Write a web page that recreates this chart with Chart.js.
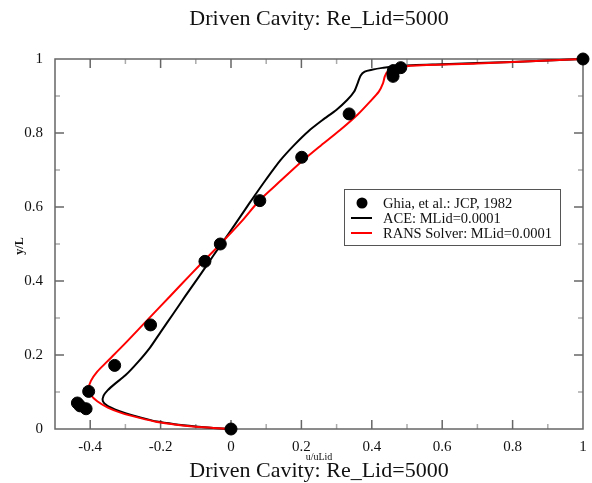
<!DOCTYPE html>
<html lang="en">

<head>
	<meta charset="UTF-8">
	<title>Driven Cavity: Re_Lid=5000</title>

	<!-- Chart.js -->
	<script src="https://cdn.jsdelivr.net/npm/chart.js"></script>

	<style>
		body { margin: 0; background: #fff; }
		#wrap { width: 592px; height: 483px; }
	</style>
</head>

<body>

	<div id="wrap">
		<canvas id="cavityChart" width="592" height="483"></canvas>
	</div>

	<script>

		// Ghia, Ghia & Shin (1982), u-velocity on the vertical centerline
		const ghiaU = [1.0, 0.48223, 0.46120, 0.45992, 0.46036, 0.33556, 0.20087, 0.08183, -0.03039, -0.07404, -0.22855, -0.33050, -0.40435, -0.43643, -0.42901, -0.41165, 0.0];
		const ghiaY = [1.0, 0.9766, 0.9688, 0.9609, 0.9531, 0.8516, 0.7344, 0.6172, 0.5000, 0.4531, 0.2813, 0.1719, 0.1016, 0.0703, 0.0625, 0.0547, 0.0];

		// ACE profile, MLid=0.0001
		const aceU = [0, -0.05, -0.10, -0.16, -0.21, -0.26, -0.30, -0.33, -0.352, -0.364, -0.362, -0.35, -0.33, -0.30, -0.265, -0.23, -0.20, -0.165, -0.13, -0.09, -0.05, -0.02, 0.01, 0.04, 0.063, 0.10, 0.14, 0.18, 0.22, 0.26, 0.30, 0.33, 0.35, 0.36, 0.368, 0.38, 0.40, 0.43, 0.48, 0.6, 0.8, 1.0];
		const aceY = [0, 0.003, 0.007, 0.013, 0.02, 0.032, 0.043, 0.053, 0.063, 0.075, 0.09, 0.105, 0.122, 0.145, 0.18, 0.22, 0.262, 0.31, 0.359, 0.413, 0.469, 0.51, 0.551, 0.593, 0.625, 0.675, 0.726, 0.768, 0.805, 0.835, 0.863, 0.889, 0.912, 0.935, 0.955, 0.966, 0.971, 0.976, 0.982, 0.986, 0.992, 1.0];

		// RANS solver profile, MLid=0.0001
		const ransU = [0, -0.05, -0.10, -0.15, -0.21, -0.26, -0.31, -0.35, -0.38, -0.398, -0.404, -0.398, -0.38, -0.352, -0.30, -0.25, -0.20, -0.145, -0.09, -0.03, 0.03, 0.08, 0.14, 0.196, 0.25, 0.31, 0.36, 0.395, 0.42, 0.432, 0.437, 0.445, 0.47, 0.51, 0.7, 1.0];
		const ransY = [0, 0.003, 0.006, 0.011, 0.019, 0.03, 0.043, 0.058, 0.075, 0.092, 0.11, 0.13, 0.155, 0.182, 0.232, 0.282, 0.332, 0.387, 0.442, 0.50, 0.561, 0.617, 0.67, 0.719, 0.762, 0.808, 0.85, 0.885, 0.912, 0.935, 0.953, 0.966, 0.974, 0.982, 0.988, 1.0];

		const titleText = 'Driven Cavity: Re_Lid=5000';
		const serif = '"Liberation Serif", "DejaVu Serif", serif';

		const toPoints = (xs, ys) => xs.map((v, i) => ({ x: v, y: ys[i] }));

		// tenths that are even get a label and a long tick
		const isMajor = v => Math.abs(Math.round(v * 10)) % 2 === 0;

		// Frame with inward ticks on all four sides
		const framePlugin = {
			id: 'frame',
			beforeDatasetsDraw(chart) {
				const { ctx, chartArea: a, scales: { x, y } } = chart;
				ctx.save();

				const tick = (x1, y1, x2, y2, major) => {
					ctx.strokeStyle = major ? '#666' : '#aaa';
					ctx.lineWidth = 1.5;
					ctx.beginPath();
					ctx.moveTo(x1, y1);
					ctx.lineTo(x2, y2);
					ctx.stroke();
				};

				x.ticks.forEach(t => {
					if (t.value <= x.min + 1e-6 || t.value >= x.max - 1e-6) return;
					const px = x.getPixelForValue(t.value);
					const major = isMajor(t.value);
					const len = major ? 9 : 5;
					tick(px, a.bottom, px, a.bottom - len, major);
					tick(px, a.top, px, a.top + len, major);
				});

				y.ticks.forEach(t => {
					if (t.value <= y.min + 1e-6 || t.value >= y.max - 1e-6) return;
					const py = y.getPixelForValue(t.value);
					const major = isMajor(t.value);
					const len = major ? 9 : 5;
					tick(a.left, py, a.left + len, py, major);
					tick(a.right, py, a.right - len, py, major);
				});

				ctx.strokeStyle = '#666';
				ctx.lineWidth = 1.5;
				ctx.strokeRect(a.left, a.top, a.right - a.left, a.bottom - a.top);
				ctx.restore();
			}
		};

		// Boxed legend inside the plot, plus titles and axis names
		const textPlugin = {
			id: 'texts',
			afterDatasetsDraw(chart) {
				const { ctx } = chart;
				const ds = chart.data.datasets;
				ctx.save();

				const bx = 344, by = 189, bw = 216, bh = 56;
				ctx.fillStyle = '#fff';
				ctx.fillRect(bx, by, bw, bh);
				ctx.strokeStyle = '#555';
				ctx.lineWidth = 1;
				ctx.strokeRect(bx + 0.5, by + 0.5, bw, bh);

				ctx.font = '14.5px ' + serif;
				ctx.textBaseline = 'middle';
				ctx.textAlign = 'left';
				ds.forEach((d, i) => {
					const ry = by + 14 + i * 15;
					if (d.showLine) {
						ctx.strokeStyle = d.borderColor;
						ctx.lineWidth = 2;
						ctx.beginPath();
						ctx.moveTo(bx + 7, ry);
						ctx.lineTo(bx + 28, ry);
						ctx.stroke();
					} else {
						ctx.fillStyle = d.backgroundColor;
						ctx.beginPath();
						ctx.arc(bx + 18, ry, 5.5, 0, Math.PI * 2);
						ctx.fill();
					}
					ctx.fillStyle = '#111';
					ctx.fillText(d.label, bx + 39, ry + 1);
				});
				ctx.restore();
			},
			afterDraw(chart) {
				const { ctx, chartArea: a } = chart;
				const cx = (a.left + a.right) / 2;
				ctx.save();
				ctx.fillStyle = '#111';
				ctx.textAlign = 'center';
				ctx.textBaseline = 'alphabetic';
				ctx.font = '22px ' + serif;
				ctx.fillText(titleText, cx, 25);

				ctx.font = '10px ' + serif;
				ctx.fillText('u/uLid', cx, 460);

				ctx.font = '22px ' + serif;
				ctx.fillText(titleText, cx, 477);

				ctx.font = 'bold 12px ' + serif;
				ctx.translate(20, 246);
				ctx.rotate(-Math.PI / 2);
				ctx.textBaseline = 'middle';
				ctx.fillText('y/L', 0, 0);
				ctx.restore();
			}
		};

		const ctx = document.getElementById('cavityChart').getContext('2d');

		new Chart(ctx, {
			type: 'scatter',
			data: {
				datasets: [
					{
						label: 'Ghia, et al.: JCP, 1982',
						data: toPoints(ghiaU, ghiaY),
						backgroundColor: '#000',
						borderColor: '#000',
						pointRadius: 6,
						pointHoverRadius: 6,
						showLine: false,
						clip: false,
						order: 0
					},
					{
						label: 'ACE: MLid=0.0001',
						data: toPoints(aceU, aceY),
						borderColor: '#000',
						backgroundColor: '#000',
						borderWidth: 2,
						pointRadius: 0,
						showLine: true,
						tension: 0.25,
						clip: false,
						order: 2
					},
					{
						label: 'RANS Solver: MLid=0.0001',
						data: toPoints(ransU, ransY),
						borderColor: '#ff0000',
						backgroundColor: '#ff0000',
						borderWidth: 2,
						pointRadius: 0,
						showLine: true,
						tension: 0.25,
						clip: false,
						order: 1
					}
				]
			},
			options: {
				responsive: false,
				animation: false,
				layout: { padding: { top: 59, right: 9, left: 0, bottom: 0 } },
				plugins: {
					legend: { display: false },
					tooltip: { enabled: false }
				},
				scales: {
					x: {
						type: 'linear',
						min: -0.5,
						max: 1,
						grid: { display: false },
						border: { display: false },
						afterFit: s => { s.height = 54; },
						ticks: {
							stepSize: 0.1,
							padding: 1,
							color: '#111',
							font: { family: serif, size: 15 },
							maxRotation: 0,
							autoSkip: false,
							callback: v => (isMajor(v) ? String(Math.round(v * 10) / 10) : '')
						}
					},
					y: {
						type: 'linear',
						min: 0,
						max: 1,
						grid: { display: false },
						border: { display: false },
						afterFit: s => { s.width = 55; },
						ticks: {
							stepSize: 0.1,
							padding: 4,
							color: '#111',
							font: { family: serif, size: 15 },
							autoSkip: false,
							callback: v => (isMajor(v) ? String(Math.round(v * 10) / 10) : '')
						}
					}
				}
			},
			plugins: [framePlugin, textPlugin]
		});
	</script>
</body>
</html>
